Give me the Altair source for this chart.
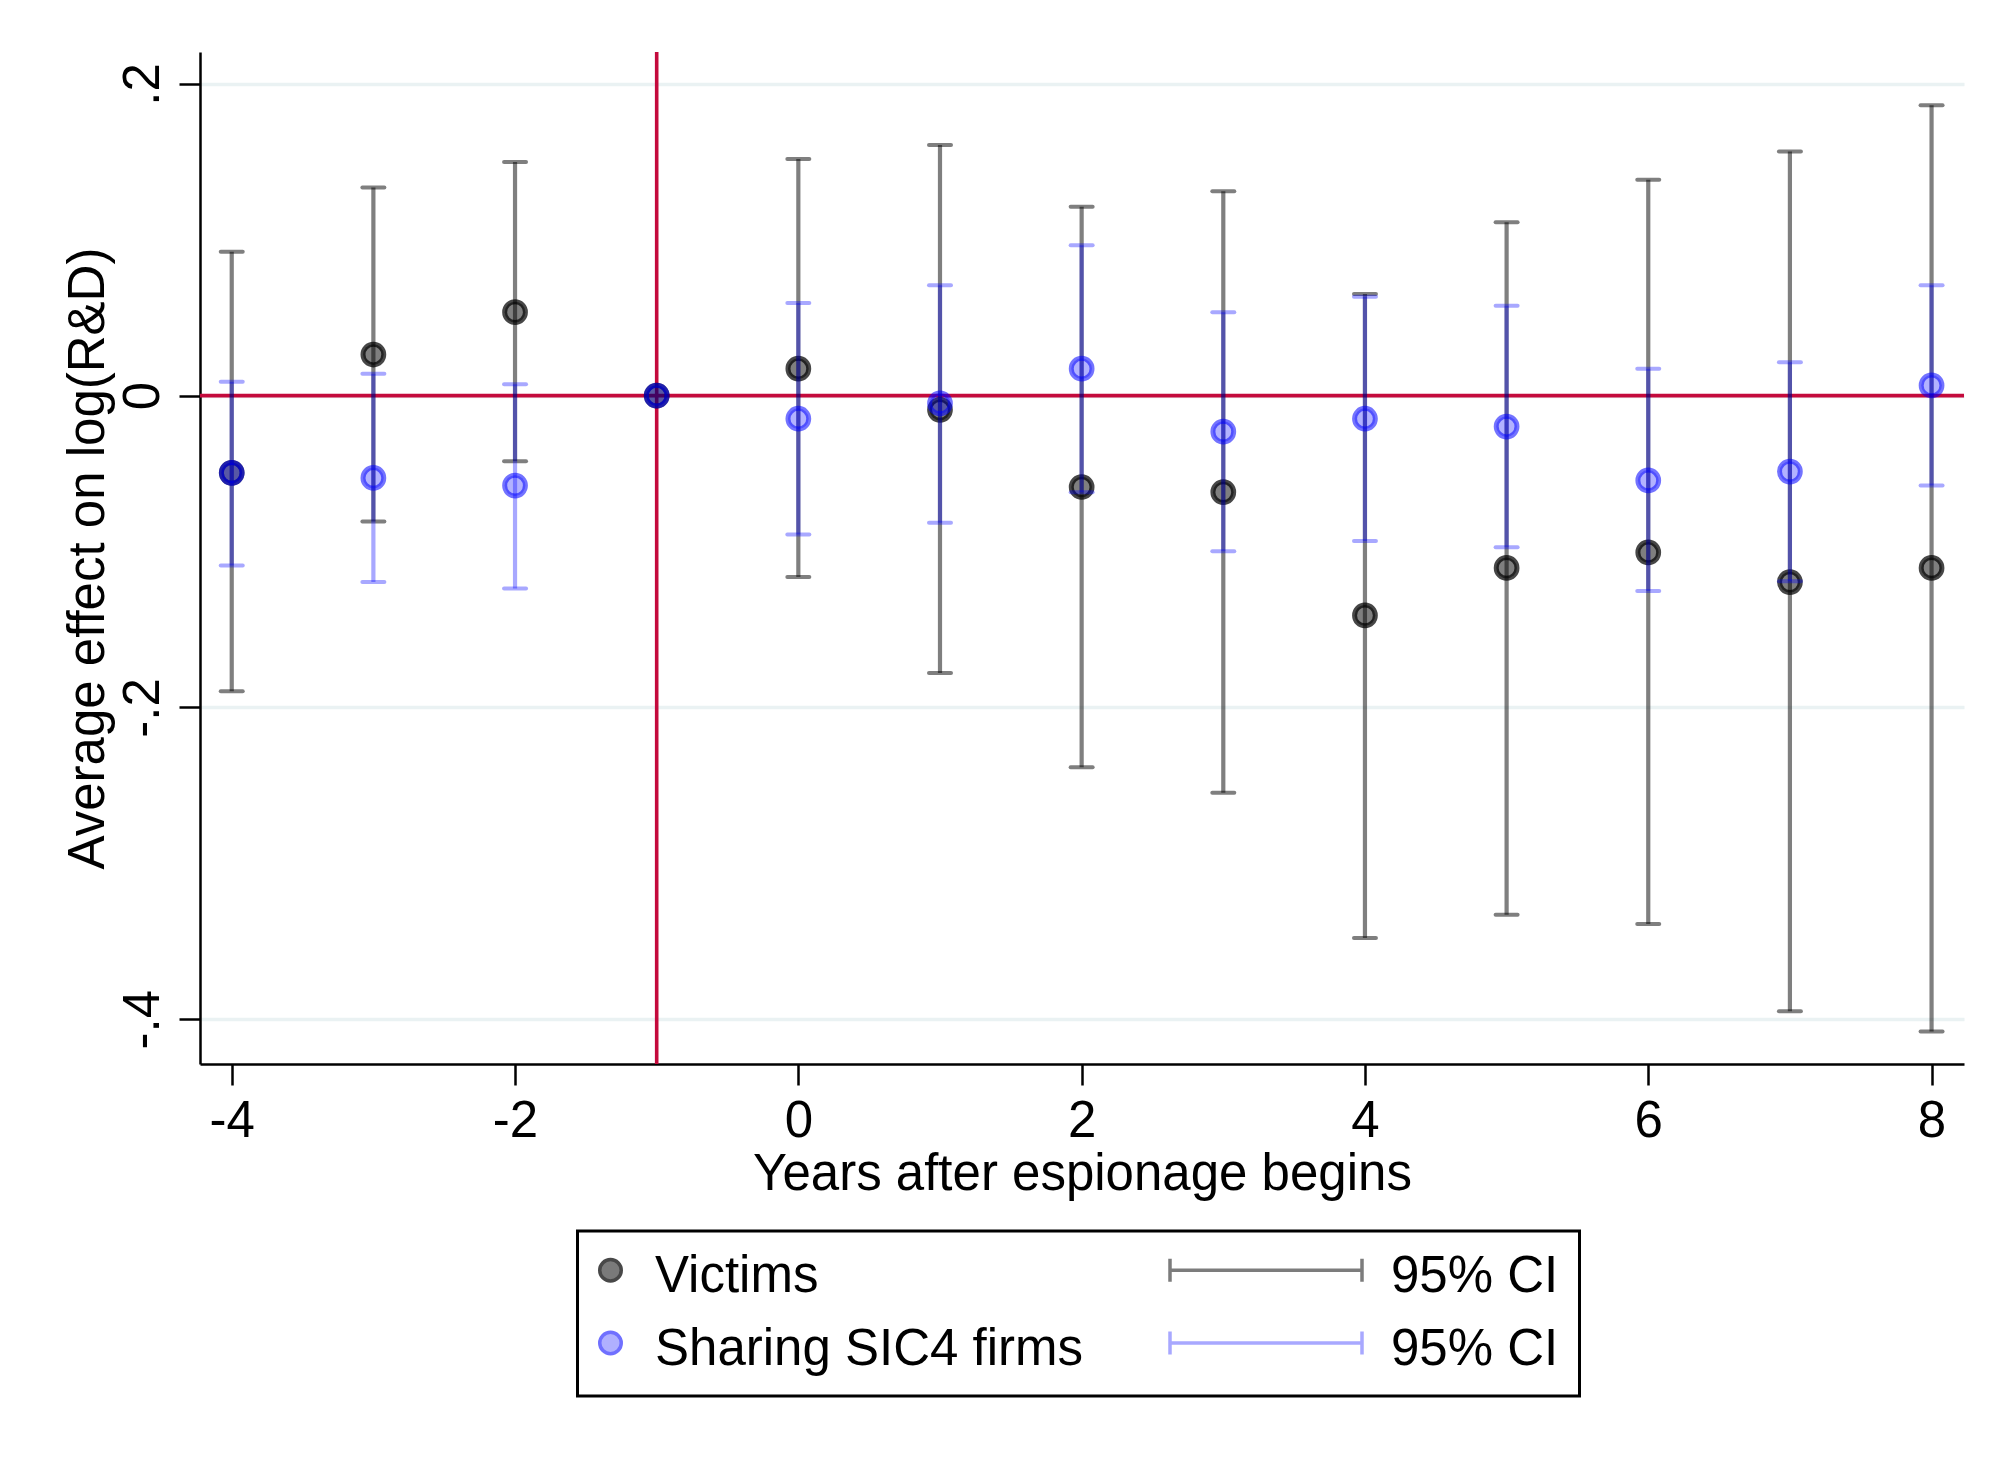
import altair as alt
import pandas as pd

# ---------------- data ----------------
years = [-4, -3, -2, -1, 0, 1, 2, 3, 4, 5, 6, 7, 8]

victims_est = [-0.0495, 0.0264, 0.0536, 0.0, 0.0173, -0.0091, -0.0586, -0.0619,
               -0.1410, -0.1105, -0.1006, -0.1196, -0.1105]
victims_lo = [-0.1897, -0.0808, -0.0420, None, -0.1163, -0.1780, -0.2384, -0.2548,
              -0.3480, -0.3330, -0.3390, -0.3950, -0.4080]
victims_hi = [0.0924, 0.1336, 0.1500, None, 0.1518, 0.1608, 0.1212, 0.1311,
              0.0652, 0.1113, 0.1386, 0.1567, 0.1864]

sharing_est = [-0.0495, -0.0528, -0.0577, 0.0, -0.0148, -0.0050, 0.0173, -0.0231,
               -0.0148, -0.0198, -0.0544, -0.0487, 0.0066]
sharing_lo = [-0.1090, -0.1196, -0.1237, None, -0.0890, -0.0816, -0.0620, -0.0998,
              -0.0932, -0.0973, -0.1254, -0.1190, -0.0577]
sharing_hi = [0.0090, 0.0140, 0.0074, None, 0.0594, 0.0709, 0.0965, 0.0536,
              0.0635, 0.0577, 0.0173, 0.0214, 0.0709]

x_ticks = [-4, -2, 0, 2, 4, 6, 8]
y_ticks = [-0.4, -0.2, 0, 0.2]
ref_x = [-1]
ref_y = [0]

legend_keys = ["Victims", "95% CI|v", "Sharing SIC4 firms", "95% CI|s"]

# ---------------- styling ----------------
FONT = "Liberation Sans"
FS = 51
RED = "#C40A3C"
GRID = "#EAF2F3"

xs = alt.Scale(domain=[-4.224, 8.229], nice=False, zero=False)
ys = alt.Scale(domain=[-0.4288, 0.2205], nice=False, zero=False)

xaxis = alt.Axis(
    values=x_ticks, title="Years after espionage begins", grid=False,
    tickSize=21, tickWidth=2.5, tickColor="black",
    domainColor="black", domainWidth=2.5,
    labelFont=FONT, labelFontSize=FS, labelColor="black", labelPadding=11,
    labelExpr="datum.value + ''", labelFlush=False, labelOverlap=False,
    titleFont=FONT, titleFontSize=FS, titleFontWeight="normal", titleColor="black",
    titleY=125.7, titleBaseline="alphabetic", titleAlign="center",
)
yaxis = alt.Axis(
    values=y_ticks, title="Average effect on log(R&D)",
    grid=True, gridColor=GRID, gridWidth=3.5,
    tickSize=21, tickWidth=2.5, tickColor="black",
    domainColor="black", domainWidth=2.5,
    labelFont=FONT, labelFontSize=FS, labelColor="black",
    labelAngle=270, labelAlign="center", labelBaseline="alphabetic", labelPadding=20.5,
    labelExpr="datum.value == 0 ? '0' : replace(datum.value + '', '0.', '.')",
    labelFlush=False, labelOverlap=False,
    titleFont=FONT, titleFontSize=FS, titleFontWeight="normal", titleColor="black",
    titleAngle=270, titleBaseline="alphabetic", titleAlign="center", titleX=-97,
)

vic = pd.DataFrame({"year": years, "est": victims_est, "lo": victims_lo, "hi": victims_hi})
sha = pd.DataFrame({"year": years, "est": sharing_est, "lo": sharing_lo, "hi": sharing_hi})


def X():
    return alt.X("year:Q", scale=xs, axis=xaxis)


def Y(f):
    return alt.Y(f"{f}:Q", scale=ys, axis=yaxis)


red_v = alt.Chart(pd.DataFrame({"year": ref_x})).mark_rule(
    color=RED, strokeWidth=3.6).encode(x=X())
red_h = alt.Chart(pd.DataFrame({"v": ref_y})).mark_rule(
    color=RED, strokeWidth=3.6).encode(y=Y("v"))


def series_layers(df, color, ci_op, fill_op, stroke_op):
    ci = df.dropna()
    line = alt.Chart(ci).mark_rule(color=color, opacity=ci_op, strokeWidth=4.2).encode(
        x=X(), y=Y("lo"), y2="hi:Q")
    caps = []
    for f in ["hi", "lo"]:
        caps.append(alt.Chart(ci).mark_rule(
            color=color, opacity=ci_op, strokeWidth=4, strokeCap="round",
            xOffset=-11, x2Offset=11).encode(x=X(), x2="year:Q", y=Y(f)))
    pts = alt.Chart(df).mark_circle(
        size=430, opacity=1, color=color, fillOpacity=fill_op,
        stroke=color, strokeOpacity=stroke_op, strokeWidth=5).encode(x=X(), y=Y("est"))
    return [line] + caps + [pts]


vic_layers = series_layers(vic, "black", 0.5, 0.5, 0.72)
sha_layers = series_layers(sha, "#0000FF", 0.34, 0.3, 0.55)

# ---------------- legend (real Vega-Lite legend, custom symbols) ----------------
# unit = 23.5 px (symbolSize 47^2); symbol centre sits at (25.5, 25.5) px in each entry.
circ = ("M-0.0958 -0.2979A0.4574 0.4574 0 1 1 -1.0106 -0.2979"
        "A0.4574 0.4574 0 1 1 -0.0958 -0.2979Z")
cibar = ("M-8.0638 -0.7872L-8.0638 0.1915M-8.0638 -0.2979L0.1064 -0.2979"
         "M0.1064 -0.7872L0.1064 0.1915")
leg_shapes = [circ, cibar, circ, cibar]
leg_fills = ["#7A7A7A", "transparent", "#B0B0FF", "transparent"]
leg_strokes = ["#484848", "#7C7C7C", "#7070FF", "#A8A8FF"]

leg = alt.Legend(
    title=None, orient="none", legendX=377.5, legendY=1179,
    direction="horizontal", columns=2,
    columnPadding=80, rowPadding=21, padding=20.5, strokeColor="black",
    labelFont=FONT, labelFontSize=FS, labelColor="black", labelOffset=6,
    labelLimit=2000, symbolSize=2209, symbolStrokeWidth=3.5, symbolOpacity=1,
    labelExpr="split(datum.label, '|')[0]",
)

dummy = alt.Chart(pd.DataFrame({"key": legend_keys})).mark_point(
    opacity=0, filled=True).encode(
    fill=alt.Fill("key:N", scale=alt.Scale(domain=legend_keys, range=leg_fills), legend=leg),
    stroke=alt.Stroke("key:N", scale=alt.Scale(domain=legend_keys, range=leg_strokes), legend=leg),
    shape=alt.Shape("key:N", scale=alt.Scale(domain=legend_keys, range=leg_shapes), legend=leg),
)

chart = alt.layer(red_v, red_h, *vic_layers, *sha_layers, dummy).properties(
    width=1764, height=1012,
    autosize=alt.AutoSizeParams(type="none"),
    padding={"left": 192, "top": 44, "right": 20, "bottom": 364},
    background="white",
).configure_view(stroke=None).configure_legend(strokeWidth=3)

chart.save("out.html", embed_options={"renderer": "svg", "actions": False})
